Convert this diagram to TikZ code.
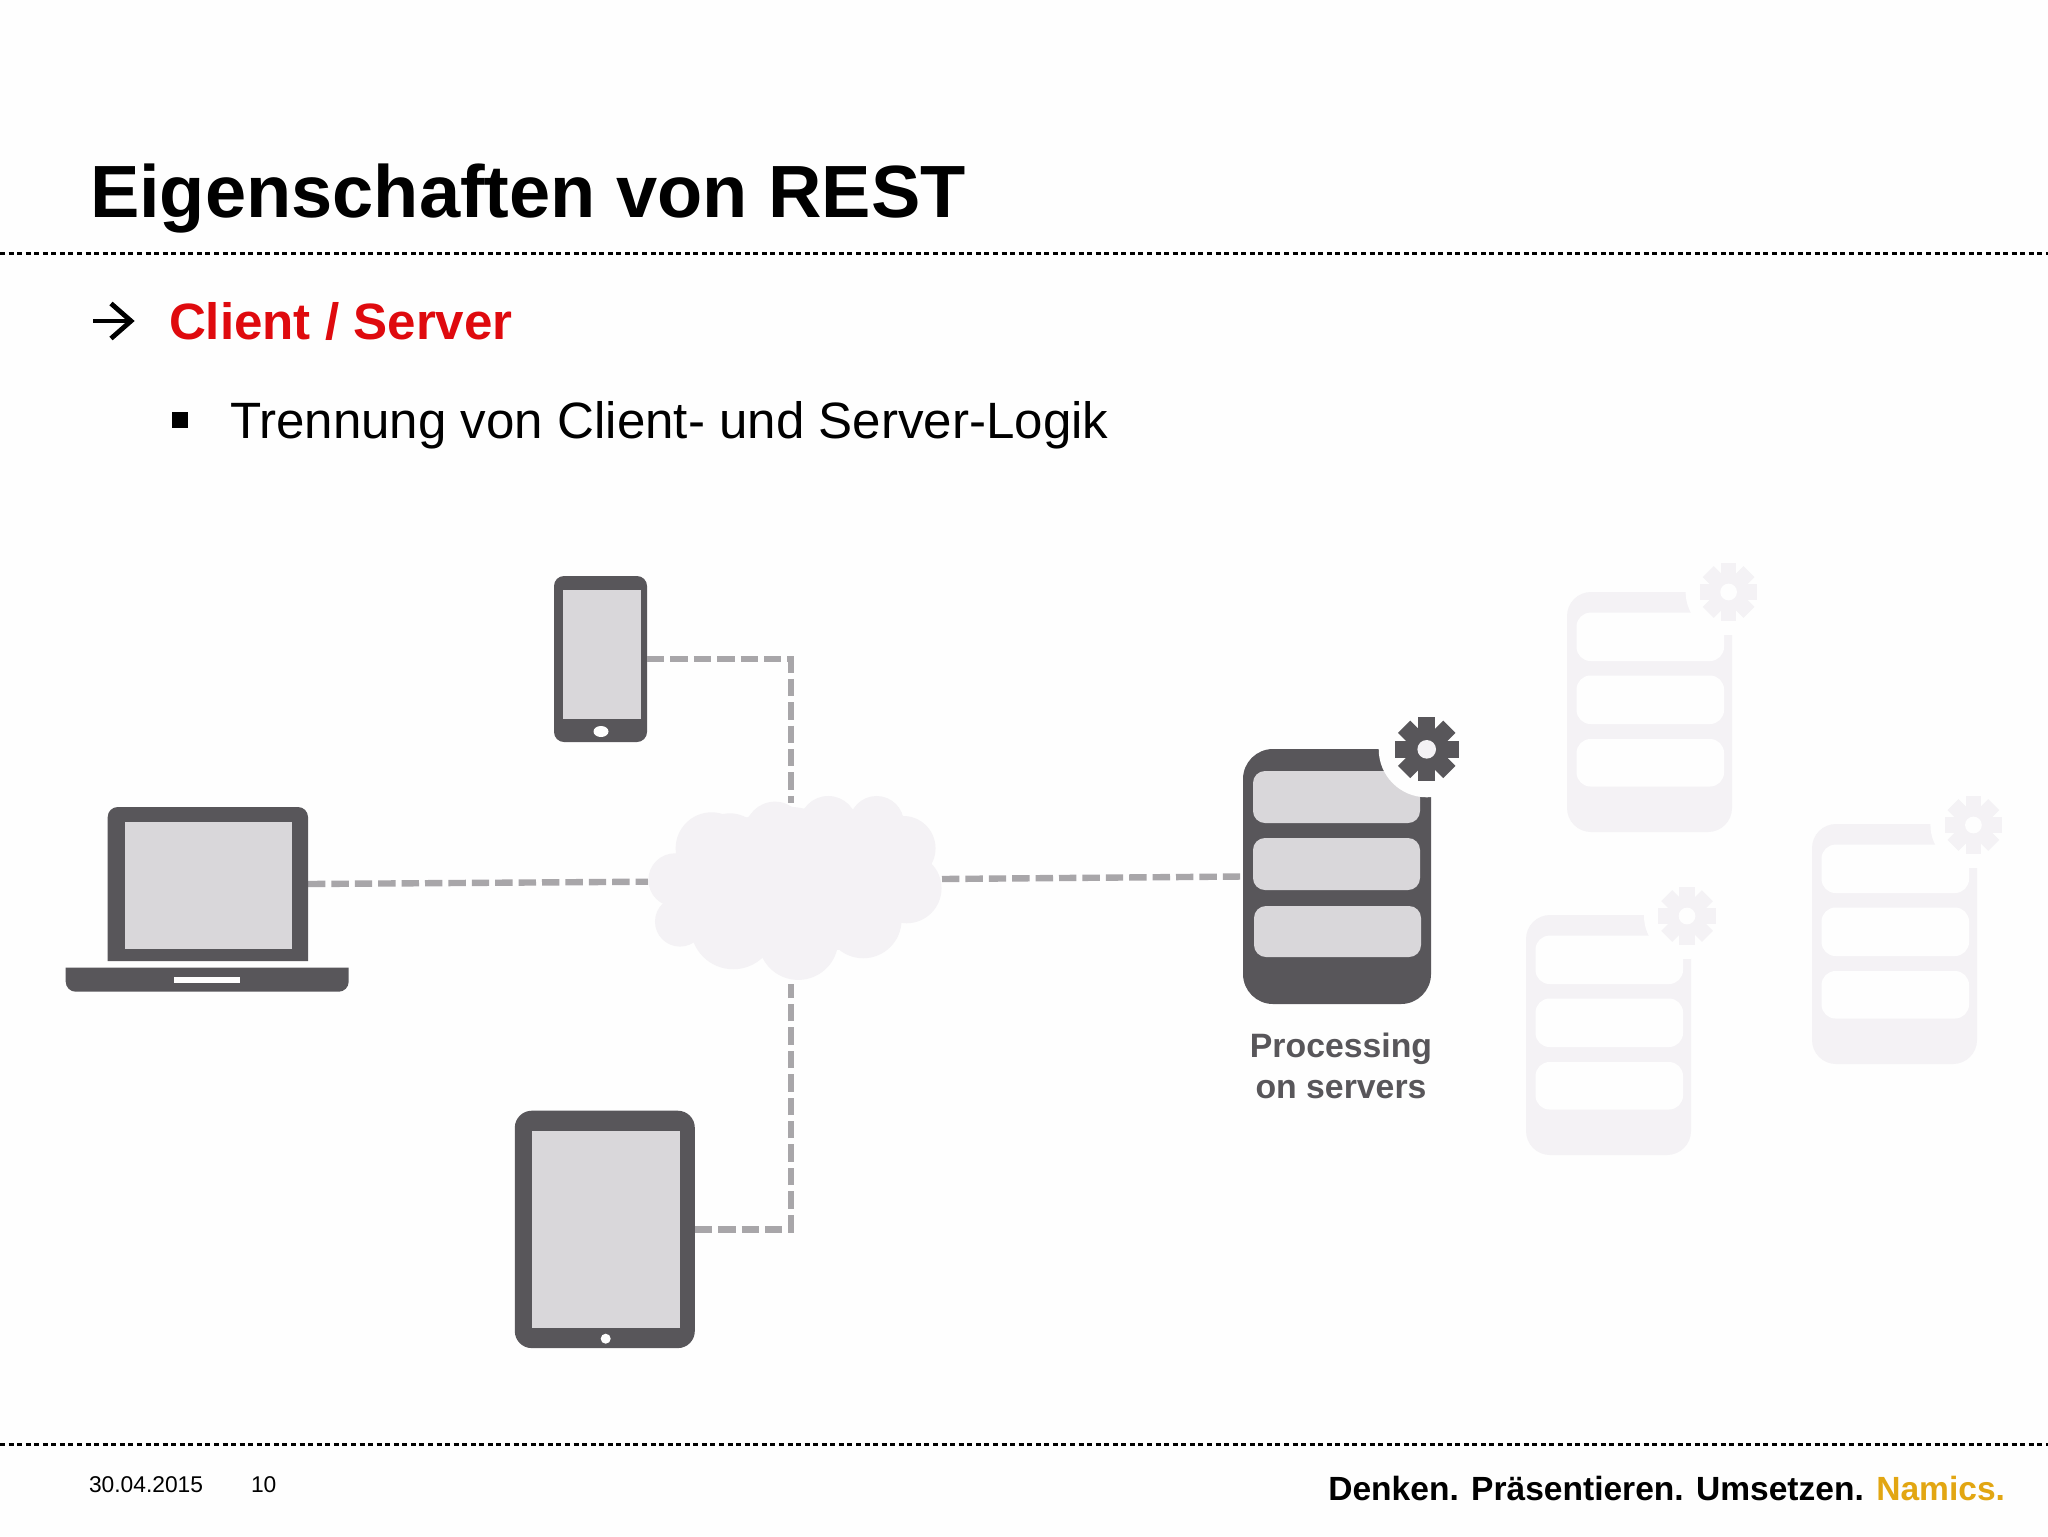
\documentclass[tikz,border=0pt]{standalone}
\usepackage{fontspec}
\setmainfont{Liberation Sans}
\definecolor{dark}{HTML}{58565A}
\definecolor{light}{HTML}{D9D7DA}
\definecolor{ghost}{HTML}{F4F2F5}
\definecolor{dashgray}{HTML}{A8A6A9}
\definecolor{paper}{HTML}{FEFEFE}
\definecolor{redhead}{HTML}{DF0A0E}
\definecolor{gold}{HTML}{E2A612}
\tikzset{
  devbox/.style={inner sep=0pt,outer sep=0pt,fill=dark,rounded corners=#1},
  hollow/.style={inner sep=0pt,outer sep=0pt},
  link/.style={draw=dashgray,line width=3.2pt,dash pattern=on 8.7pt off 3pt},
  rulerline/.style={draw=black,line width=1.85pt,dash pattern=on 2.5pt off 1.78pt},
  txt/.style={inner sep=0pt,outer sep=0pt,anchor=base west,text=black},
}
% gear: x, y, scale, tooth colour, hole colour
\newcommand{\gearshape}[5]{%
  \begin{scope}[shift={(#1,#2)}]
    \foreach \a in {0,45,...,315}{\fill[#4,rotate=\a] (-8.65*#3,0) rectangle (8.65*#3,-32*#3);}
    \fill[#4] (0,0) circle[radius=10.5pt*#3];
    \fill[#5] (0,0) circle[radius=4.65pt*#3];
  \end{scope}}
% ghost server: left, top, gear x, gear y
\newcommand{\ghostserver}[4]{%
  \begin{scope}[shift={(#1,#2)}]
    \fill[ghost,rounded corners=12pt] (0,0) rectangle (165,240);
    \foreach \t/\b in {20.6/69,83.5/132,147/194.5}{\fill[paper,rounded corners=7pt] (9.5,\t) rectangle (157,\b);}
  \end{scope}
  \fill[paper] (#3,#4) circle[radius=21.5pt];
  \gearshape{#3}{#4}{0.9}{ghost}{paper}}
\begin{document}
\begin{tikzpicture}[x=0.5pt,y=-0.5pt]
\useasboundingbox (0,0) rectangle (2048,1536);
\fill[paper] (0,0) rectangle (2048,1536);

% rules
\coordinate (ruleAw) at (0,253.5); \coordinate (ruleAe) at (2048,253.5);
\coordinate (ruleBw) at (0,1444.5); \coordinate (ruleBe) at (2048,1444.5);
\draw[rulerline] (ruleAw) -- (ruleAe);
\draw[rulerline] (ruleBw) -- (ruleBe);

% texts
\node[txt,font=\bfseries\fontsize{37}{37}\selectfont] (title) at (90,217) {Eigenschaften von REST};
\node[txt,font=\bfseries\fontsize{25.55}{25.55}\selectfont,text=redhead] (head) at (169,339) {Client / Server};
\node[txt,font=\fontsize{25.55}{25.55}\selectfont] (body) at (230,438) {Trennung von Client- und Server-Logik};
\node[txt,font=\fontsize{11.4}{11.4}\selectfont] (date) at (89,1492.7) {30.04.2015};
\node[txt,font=\fontsize{11.4}{11.4}\selectfont] (page) at (251,1492.7) {10};
\node[inner sep=0pt,outer sep=0pt,anchor=base east,font=\bfseries\fontsize{16.77}{16.77}\selectfont] (claim) at (2005,1500) {Denken. Präsentieren. Umsetzen. \textcolor{gold}{Namics.}};

% arrow bullet and square bullet
\coordinate (arrS) at (93,321); \coordinate (arrT) at (131,321);
\coordinate (arrU) at (111,303.5); \coordinate (arrD) at (111,338.5);
\draw[line width=2.4pt] (arrS) -- (arrT);
\draw[line width=2.4pt,miter limit=10] (arrU) -- (arrT) -- (arrD);
\fill[black] (172,412) rectangle (188,428);

% device nodes
\node[devbox=5pt,minimum width=46.5pt,minimum height=83pt] (phone) at (600.5,659) {};
\node[hollow,minimum width=100.15pt,minimum height=77pt] (laptop) at (207.85,884) {};
\node[devbox=8.5pt,minimum width=90pt,minimum height=118.7pt] (tablet) at (604.8,1229.4) {};
\node[hollow,minimum width=94pt,minimum height=127.5pt] (server) at (1337,876.5) {};
\coordinate (cloudW) at (648,881.7);
\coordinate (cloudE) at (942,879);
\coordinate (cloudN) at (791,803);
\coordinate (cloudS) at (791,984);

% connectors
\draw[link] (phone.east) -| (cloudN);
\draw[link] (tablet.east) -| (cloudS);
\draw[link] (laptop.east) -- (cloudW);
\draw[link] (cloudE) -- (server.west);

% cloud
\begin{scope}[shift={(620,760)},x=0.1666pt,y=-0.1666pt]
  \foreach \cx/\cy/\r in {275/265/108,330/260/100,465/215/90,625/195/87,770/190/82,850/265/97,860/385/105,730/480/115,535/540/120,340/500/128,180/485/75,165/360/80,500/370/230,350/370/200,650/370/200}
    {\fill[ghost] (\cx,\cy) circle[radius=\r*0.1666pt];}
\end{scope}

% phone details
\fill[light] (563,590) rectangle (640.5,719);
\fill[paper] (601,731.5) ellipse[x radius=3.75pt,y radius=2.75pt];

% laptop
\fill[dark] (107.7,961) [rounded corners=5pt] -- (107.7,807) -- (308,807) [sharp corners] -- (308,961) -- cycle;
\fill[light] (125,822) rectangle (292,949);
\fill[dark] (65.7,967.7) -- (348.7,967.7) [rounded corners=5pt] -- (348.7,991.7) -- (65.7,991.7) [sharp corners] -- cycle;
\fill[paper] (174,977) rectangle (240,982.5);

% tablet details
\fill[light] (532,1131) rectangle (680,1328);
\fill[paper] (605.7,1338.7) circle[radius=2.5pt];

% main server
\fill[dark,rounded corners=15pt] (1243,749) rectangle (1431,1004);
\fill[light,rounded corners=6pt] (1253,771) rectangle (1420,823);
\fill[light,rounded corners=6pt] (1253,838) rectangle (1420,890);
\fill[light,rounded corners=6pt] (1254,906) rectangle (1421,957);
\fill[paper] (1426.7,749.3) circle[radius=24pt];
\gearshape{1426.7}{749.3}{1}{dark}{ghost}
\node[inner sep=0pt,outer sep=0pt,anchor=base,font=\bfseries\fontsize{16.9}{16.9}\selectfont,text=dark] (procA) at (1341,1057.7) {Processing};
\node[inner sep=0pt,outer sep=0pt,anchor=base,font=\bfseries\fontsize{16.9}{16.9}\selectfont,text=dark] (procB) at (1341,1098.3) {on servers};

% ghost servers
\ghostserver{1567}{592}{1728.6}{592}
\ghostserver{1526}{915}{1687}{916}
\ghostserver{1812}{824}{1973.4}{825}
\end{tikzpicture}
\end{document}
